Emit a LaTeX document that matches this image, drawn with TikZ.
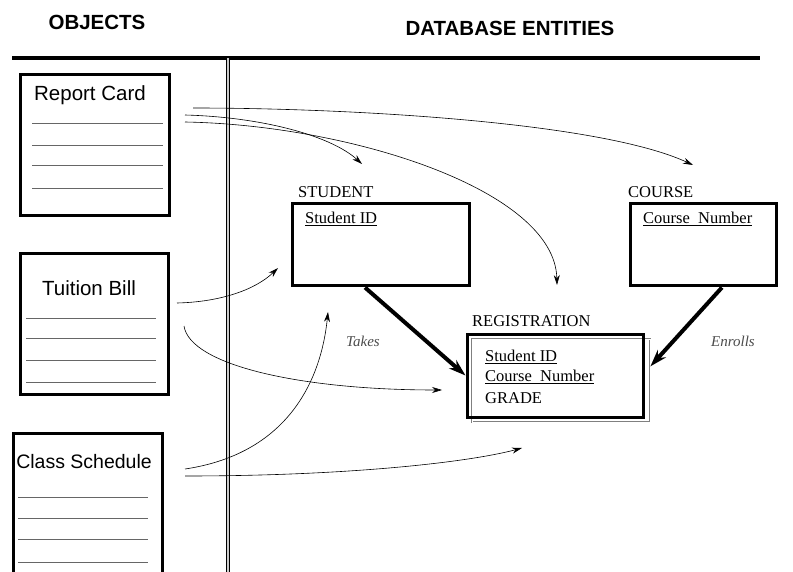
\documentclass[tikz,border=0pt]{standalone}
\usepackage{fontspec}
\setmainfont{Liberation Serif}
\newfontfamily\headfont{Liberation Sans}
\usetikzlibrary{arrows.meta}

\begin{document}
\begin{tikzpicture}[x=1pt,y=-1pt,
  head/.style={font=\headfont\bfseries\fontsize{20.5}{24}\selectfont,inner sep=0pt},
  objbox/.style={draw,line width=3pt,inner sep=0pt},
  objtitle/.style={font=\headfont\fontsize{20.5}{24}\selectfont,inner sep=0pt},
  entbox/.style={draw,line width=3pt,inner sep=0pt},
  entname/.style={font=\fontsize{16.5}{19}\selectfont,inner sep=0pt,anchor=west},
  field/.style={font=\fontsize{16.5}{19}\selectfont,inner sep=0pt,anchor=west},
  rel/.style={font=\itshape\fontsize{15}{17}\selectfont,inner sep=0pt,text=black!70},
  flow/.style={-{Stealth[length=10pt,width=6pt]},line width=0.6pt},
  link/.style={-{Stealth[length=17pt,width=11pt]},line width=4pt}
]
\clip (0,0) rectangle (793,572);

% headings and frame
\node[head] (objhead) at (97,22) {OBJECTS};
\node[head] (dbhead) at (510,28) {DATABASE ENTITIES};
\coordinate (rulel) at (12,58);
\coordinate (ruler) at (760,58);
\draw[line width=4pt] (rulel) -- (ruler);
\coordinate (splitt) at (228,58);
\coordinate (splitb) at (228,580);
\draw[double=gray!40,double distance=2pt,line width=1pt] (splitt) -- (splitb);

% objects
\node[objbox,minimum width=149,minimum height=141] (report) at (95,145.5) {};
\node[objtitle] (reporttxt) at (90,95) {Report Card};
\foreach \y in {123,145,165,188}
  \draw[gray!80!black,line width=0.8pt] (32,\y) -- (163,\y);

\node[objbox,minimum width=148,minimum height=140] (tuition) at (94,324) {};
\node[objtitle] (tuitiontxt) at (89,288) {Tuition Bill};
\foreach \y in {318,338,360,382}
  \draw[gray!80!black,line width=0.8pt] (26,\y) -- (156,\y);

\node[objbox,minimum width=149,minimum height=166] (schedule) at (87.5,516) {};
\node[objtitle,font=\headfont\fontsize{19.5}{22}\selectfont] (scheduletxt) at (84,462) {Class Schedule};
\foreach \y in {497,518,539,562}
  \draw[gray!80!black,line width=0.8pt] (18,\y) -- (148,\y);

% entities
\node[entbox,minimum width=177,minimum height=82] (student) at (380.5,245) {};
\node[entname] (studentname) at (298,192) {STUDENT};
\node[field] (studentid) at (305,219) {\underline{Student ID}};

\node[entbox,minimum width=146,minimum height=82] (course) at (703,245) {};
\node[entname] (coursename) at (628,192) {COURSE};
\node[field] (coursenum) at (643,219) {\underline{Course\ \ Number}};

\node[draw=gray,double=white,double distance=1pt,line width=0.8pt,
  minimum width=178,minimum height=83,inner sep=0pt] (regshadow) at (561,380.5) {};
\node[entbox,minimum width=176,minimum height=83] (reg) at (555,375.5) {};
\node[entname] (regname) at (472,321) {REGISTRATION};
\node[field] (regsid) at (485,357) {\underline{Student ID}};
\node[field] (regcid) at (485,377) {\underline{Course\ \ Number}};
\node[field] (reggrade) at (485,398) {GRADE};

% relationships
\draw[link] (student.250) -- (reg.west);
\draw[link] (course.294) -- (regshadow.9);
\node[rel] (takes) at (363,341) {Takes};
\node[rel] (enrolls) at (733,341) {Enrolls};

% object to entity mapping
\coordinate (rc1) at (193,108);
\coordinate (rc2) at (185,115);
\coordinate (rc3) at (185,122);
\coordinate (tb1) at (177,303);
\coordinate (tb2) at (184,326);
\coordinate (cs1) at (185,469);
\coordinate (cs2) at (185,476);
\coordinate (tostudent1) at (362,164);
\coordinate (tocourse) at (693,165);
\coordinate (toreg1) at (557,285);
\coordinate (tostudent2) at (278,268);
\coordinate (toreg2) at (442,390);
\coordinate (tostudent3) at (328,312);
\coordinate (toreg3) at (522,448);

\draw[flow] (rc1) .. controls (350,108) and (600,122) .. (tocourse);
\draw[flow] (rc2) .. controls (260,117) and (330,135) .. (tostudent1);
\draw[flow] (rc3) .. controls (350,125) and (555,190) .. (toreg1);
\draw[flow] (tb1) .. controls (220,302) and (255,290) .. (tostudent2);
\draw[flow] (tb2) .. controls (190,365) and (300,390) .. (toreg2);
\draw[flow] (cs1) .. controls (280,455) and (320,390) .. (tostudent3);
\draw[flow] (cs2) .. controls (350,476) and (470,462) .. (toreg3);
\end{tikzpicture}
\end{document}
